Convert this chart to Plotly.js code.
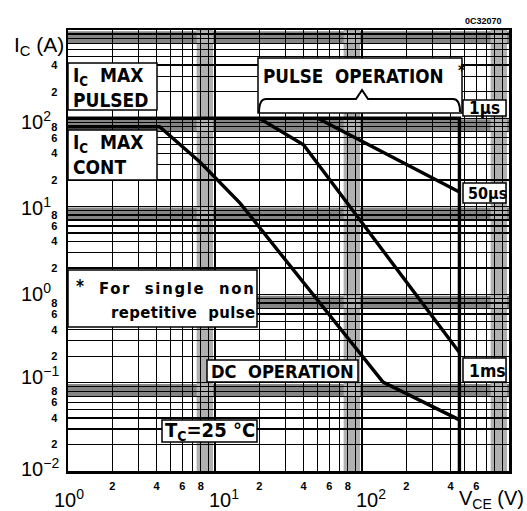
<!DOCTYPE html>
<html><head><meta charset="utf-8">
<script src="https://cdn.plot.ly/plotly-3.0.1.min.js"></script>
<style>html,body{margin:0;padding:0;background:#fff}#chart{width:527px;height:511px}</style>
</head><body><div id="chart"></div>
<script>
// Safe operating area boundaries: V_CE (V) vs I_C (A)
const pulsedLimitV = [1, 460, 460];
const pulsedLimitI = [100, 100, 0.01];
const dcV = [1, 4.2, 7.9, 14.8, 139, 460];
const dcI = [80, 80, 31.8, 10.9, 0.102, 0.038];
const ms1V = [20, 40, 460];
const ms1I = [100, 50, 0.22];
const us50V = [50, 460];
const us50I = [100, 14.6];

// tick labels
const xMinorTicks = [2, 4, 6, 8, 20, 40, 60, 80, 200, 400, 600];
const xMinorLabels = ['2', '4', '6', '8', '2', '4', '6', '8', '2', '4', '6'];
const yMinorTicks = [0.02, 0.04, 0.06, 0.08, 0.2, 0.4, 0.6, 0.8, 2, 4, 6, 8, 20, 40, 60, 80, 200, 400];
const yMinorLabels = ['2', '4', '6', '8', '2', '4', '6', '8', '2', '4', '6', '8', '2', '4', '6', '8', '2', '4'];
const xDecades = [1, 10, 100];
const xDecadeLabels = ['10<sup>0</sup>', '10<sup>1</sup>', '10<sup>2</sup>'];
const yDecades = [0.01, 0.1, 1, 10, 100];
const yDecadeLabels = ['10<sup>\u22122</sup>', '10<sup>\u22121</sup>', '10<sup>0</sup>', '10<sup>1</sup>', '10<sup>2</sup>'];

// ---------- layout helpers ----------
const W = 527, H = 511, L = 68, T = 30, PW = 441, PH = 441;
const PX = p => (p - L) / PW;
const PY = p => (T + PH - p) / PH;
const FONT = 'Liberation Sans, Arial, sans-serif';
const NARROW = 'DejaVu Sans Condensed, DejaVu Sans, sans-serif';

// grid positions (log paper)
const gridVals = [];
for (let k = -2; k <= 3; k++) for (let m = 1; m <= 9; m++) { const v = m * Math.pow(10, k); if (v <= 1000) gridVals.push(v); }

const shapes = [];
// darker bands of dense lines (log paper look)
for (let k = -2; k <= 2; k++) {
  const y0 = (Math.log10(7 * Math.pow(10, k)) + 2) / 5, y1 = (Math.log10(9.7 * Math.pow(10, k)) + 2) / 5;
  shapes.push({type: 'rect', xref: 'paper', yref: 'paper', x0: 0, x1: 1, y0: y0, y1: y1, fillcolor: '#858585', line: {width: 0}, layer: 'below'});
}
for (let k = 0; k <= 2; k++) {
  const x0 = Math.log10(7.5 * Math.pow(10, k)) / 3, x1 = Math.log10(9.7 * Math.pow(10, k)) / 3;
  shapes.push({type: 'rect', xref: 'paper', yref: 'paper', x0: x0, x1: x1, y0: 0, y1: 1, fillcolor: '#b0b0b0', line: {width: 0}, layer: 'below'});
}
// white label boxes
const boxes = [
  [68, 157, 63, 110], [68, 157, 130, 180], [258, 462, 58, 113], [463, 506, 100, 116],
  [463, 506, 183, 203], [68, 257, 270, 327], [207, 358, 360, 382], [463, 506, 358, 382], [162, 257, 420, 442]
];
boxes.forEach(b => shapes.push({type: 'rect', xref: 'paper', yref: 'paper', x0: PX(b[0]), x1: PX(b[1]), y0: PY(b[2]), y1: PY(b[3]),
  fillcolor: '#fff', line: {color: '#000', width: 1.5}, layer: 'above'}));
// brace under PULSE OPERATION
const P = (x, y) => PX(x).toFixed(4) + ',' + PY(y).toFixed(4);
shapes.push({type: 'path', xref: 'paper', yref: 'paper', layer: 'above', line: {color: '#000', width: 2},
  path: 'M' + P(259, 113) + ' Q' + P(259, 99) + ' ' + P(266, 99) + ' L' + P(356, 99) + ' L' + P(362, 90) + ' L' + P(368, 99) +
        ' L' + P(453, 99) + ' Q' + P(460, 99) + ' ' + P(460, 112)});

// ---------- traces ----------
const ln = {color: '#000', width: 3.4};
const traces = [
  {x: pulsedLimitV, y: pulsedLimitI, mode: 'lines', line: ln, hoverinfo: 'skip'},
  {x: dcV, y: dcI, mode: 'lines', line: ln, hoverinfo: 'skip'},
  {x: ms1V, y: ms1I, mode: 'lines', line: ln, hoverinfo: 'skip'},
  {x: us50V, y: us50I, mode: 'lines', line: ln, hoverinfo: 'skip'}
];

// ---------- annotations ----------
const annotations = [];
function txt(text, px, py, size, anchor, fam, weight) {
  annotations.push({text: text, xref: 'paper', yref: 'paper', x: PX(px), y: PY(py), xanchor: anchor || 'left', yanchor: 'middle',
    showarrow: false, align: 'left', font: {family: fam || NARROW, size: size, color: '#000', weight: weight || 'bold'}});
}
txt('I<sub>C</sub>  MAX<br>PULSED', 71, 87, 19);
txt('I<sub>C</sub>  MAX<br>CONT', 71, 155, 19);
txt('PULSE  OPERATION', 261, 76, 18.7);
txt('*', 456, 71, 15);
txt('1\u00b5s', 467, 108, 17);
txt('50\u00b5s', 466, 193, 16);
txt('*', 74, 286, 17);
txt('<span style="letter-spacing:1.7px">For  single  non</span>', 97, 288, 16.5);
txt('<span style="letter-spacing:0.4px">repetitive  pulse</span>', 109, 312, 16.5);
txt('DC  OPERATION', 209, 371, 18.2);
txt('1ms', 467, 371, 17.5);
txt('T<sub>C</sub>=25 \u00b0C', 163, 431, 20);
txt('I<sub>C</sub> (A)', 12, 46, 21, 'left', FONT, 'normal');
txt('V<sub>CE</sub> (V)', 457, 500, 20, 'left', FONT, 'normal');
txt('0C32070', 504, 21, 9, 'right', FONT, 'bold');

const xShift = [1, 9, 9];
xDecades.forEach((v, i) => annotations.push({text: xDecadeLabels[i], xref: 'x', yref: 'paper', x: Math.log10(v), y: PY(498), xshift: xShift[i],
  xanchor: 'center', yanchor: 'middle', showarrow: false, font: {family: FONT, size: 20, color: '#000'}}));
const yShift = [4, 7, 2, 0, -2];
yDecades.forEach((v, i) => annotations.push({text: yDecadeLabels[i], xref: 'paper', yref: 'y', x: PX(19), y: Math.log10(v), yshift: yShift[i],
  xanchor: 'left', yanchor: 'middle', showarrow: false, font: {family: FONT, size: 20, color: '#000'}}));

const axisCommon = {
  type: 'log', tickmode: 'array', ticks: '', showgrid: true, gridcolor: '#000', gridwidth: 1.4,
  showline: true, mirror: true, linecolor: '#000', linewidth: 2.5, zeroline: false, fixedrange: true,
  minor: {tickmode: 'array', tickvals: gridVals, showgrid: true, gridcolor: '#000', gridwidth: 1.2, ticks: ''},
  tickfont: {family: FONT, size: 11, color: '#000', weight: 'bold'}
};

const layout = {
  width: W, height: H, margin: {l: L, r: W - L - PW, t: T, b: H - T - PH, pad: 0},
  paper_bgcolor: '#fff', plot_bgcolor: '#fff', showlegend: false,
  xaxis: Object.assign({}, axisCommon, {range: [0, 3], tickvals: xMinorTicks, ticktext: xMinorLabels, ticklabelstandoff: 3}),
  yaxis: Object.assign({}, axisCommon, {range: [-2, 3], tickvals: yMinorTicks, ticktext: yMinorLabels, ticklabelstandoff: 6}),
  shapes: shapes, annotations: annotations
};

Plotly.newPlot('chart', traces, layout, {displayModeBar: false, staticPlot: true});
</script></body></html>
